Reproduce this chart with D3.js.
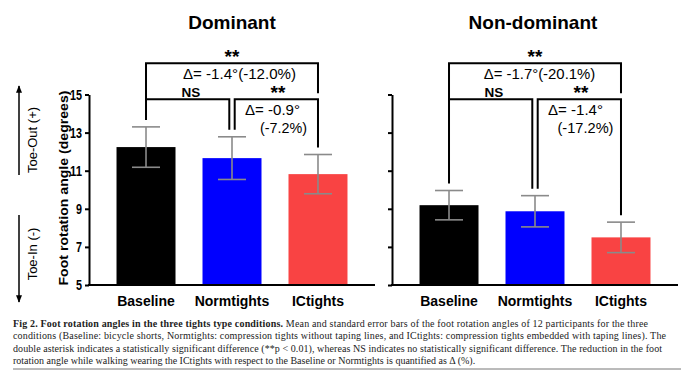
<!DOCTYPE html>
<html>
<head>
<meta charset="utf-8">
<script src="https://cdn.jsdelivr.net/npm/d3@7"></script>
<style>
  html, body { margin: 0; padding: 0; background: #fff; }
  svg { display: block; }
</style>
</head>
<body>
<div id="chart"></div>
<script>
const conditions = ["Baseline", "Normtights", "ICtights"];
const dominantMean = [12.24, 11.66, 10.82];
const dominantSE = [1.06, 1.12, 1.03];
const nonDominantMean = [9.19, 8.87, 7.50];
const nonDominantSE = [0.77, 0.82, 0.80];
const yTicks = [5, 7, 9, 11, 13, 15];
const panelTitles = ["Dominant", "Non-dominant"];
const deltaAll = ["Δ= -1.4°(-12.0%)", "Δ= -1.7°(-20.1%)"];
const deltaNorm = [["Δ= -0.9°", "(-7.2%)"], ["Δ= -1.4°", "(-17.2%)"]];
const sigLabels = ["**", "NS", "**"];
const barColors = ["#000000", "#0000ff", "#f94343"];

const captionLines = [
  [["Fig 2.  Foot rotation angles in the three tights type conditions.", true],
   [" Mean and standard error bars of the foot rotation angles of 12 participants for the three", false]],
  [["conditions (Baseline: bicycle shorts, Normtights: compression tights without taping lines, and ICtights: compression tights embedded with taping lines). The", false]],
  [["double asterisk indicates a statistically significant difference (**p < 0.01), whereas NS indicates no statistically significant difference. The reduction in the foot", false]],
  [["rotation angle while walking wearing the ICtights with respect to the Baseline or Normtights is quantified as Δ (%).", false]]
];

const width = 684, height = 370;
const sans = "'Liberation Sans', Arial, Helvetica, sans-serif";

const svg = d3.select("#chart").append("svg")
  .attr("width", width)
  .attr("height", height);

const y = d3.scaleLinear().domain([5, 15]).range([285, 94.5]);
const x = d3.scaleBand().domain(conditions).range([89, 375])
  .paddingInner(0.314).paddingOuter(0.32);

const panels = [
  { dx: 0, mean: dominantMean, se: dominantSE, labels: true },
  { dx: 303, mean: nonDominantMean, se: nonDominantSE, labels: false }
];

panels.forEach((p, i) => {
  const g = svg.append("g").attr("transform", `translate(${p.dx},0)`);
  const cx = c => x(c) + x.bandwidth() / 2;

  // title
  g.append("text")
    .attr("x", (x.range()[0] + x.range()[1]) / 2 + (i === 0 ? 0 : -2))
    .attr("y", 29)
    .attr("text-anchor", "middle")
    .style("font-family", sans).style("font-weight", "700").style("font-size", "19px")
    .text(panelTitles[i]);

  // bars
  g.selectAll("rect.bar")
    .data(conditions)
    .enter().append("rect")
    .attr("x", d => x(d))
    .attr("y", (d, k) => y(p.mean[k]))
    .attr("width", x.bandwidth())
    .attr("height", (d, k) => y(5) - y(p.mean[k]))
    .attr("fill", (d, k) => barColors[k]);

  // error bars
  const eb = g.selectAll("g.err")
    .data(conditions)
    .enter().append("g")
    .attr("stroke", "#8a8a8a").attr("stroke-width", 1.6);
  eb.append("line")
    .attr("x1", d => cx(d)).attr("x2", d => cx(d))
    .attr("y1", (d, k) => y(p.mean[k] + p.se[k]))
    .attr("y2", (d, k) => y(p.mean[k] - p.se[k]));
  [1, -1].forEach(s => {
    eb.append("line")
      .attr("x1", d => cx(d) - 14).attr("x2", d => cx(d) + 14)
      .attr("y1", (d, k) => y(p.mean[k] + s * p.se[k]))
      .attr("y2", (d, k) => y(p.mean[k] + s * p.se[k]));
  });

  // y axis
  const axis = d3.axisLeft(y).tickValues(yTicks).tickSize(4).tickSizeOuter(0).tickPadding(3)
    .tickFormat(p.labels ? d3.format("d") : "");
  const ag = g.append("g").attr("transform", `translate(${x.range()[0]},0)`).call(axis);
  ag.select(".domain").attr("stroke", "#000").attr("stroke-width", 2);
  ag.selectAll(".tick line").attr("stroke", "#000").attr("stroke-width", 2);
  ag.selectAll(".tick text")
    .style("font-family", sans).style("font-weight", "700").style("font-size", "15px")
    .attr("fill", "#000")
    .each(function(d) {
      if (p.labels) d3.select(this).attr("textLength", String(d).length * 6).attr("lengthAdjust", "spacingAndGlyphs");
    });

  // x axis line
  g.append("line")
    .attr("x1", x.range()[0] - 1).attr("x2", x.range()[1])
    .attr("y1", y(5)).attr("y2", y(5))
    .attr("stroke", "#000").attr("stroke-width", 2);

  // category labels
  g.selectAll("text.cat")
    .data(conditions)
    .enter().append("text")
    .attr("x", d => cx(d))
    .attr("y", 306)
    .attr("text-anchor", "middle")
    .style("font-family", sans).style("font-weight", "700").style("font-size", "14px")
    .text(d => d);

  // significance brackets
  const topY = 63.3, lowY = 99.3, gap = 7;
  const legEnd = k => y(p.mean[k] + p.se[k]) - gap;
  const xb = cx(conditions[0]), xn = cx(conditions[1]), xi = cx(conditions[2]);
  const br = g.append("g").attr("fill", "none").attr("stroke", "#000").attr("stroke-width", 2);
  br.append("path").attr("d", `M${xb},${legEnd(0)}V${topY}H${xi}V${lowY - 6}`);
  br.append("path").attr("d", `M${xb},${lowY}H${xn - 2.7}V${legEnd(1)}`);
  br.append("path").attr("d", `M${xn + 2.7},${legEnd(1)}V${lowY}H${xi}V${legEnd(2)}`);

  const txt = (sel, s, xx, yy, size, bold, anchor, len) => {
    const t = sel.append("text")
      .attr("x", xx).attr("y", yy)
      .attr("text-anchor", anchor || "middle")
      .style("font-family", sans)
      .style("font-weight", bold ? "700" : "400")
      .style("font-size", size + "px")
      .text(s);
    if (len) t.attr("textLength", len).attr("lengthAdjust", "spacingAndGlyphs");
    return t;
  };

  txt(g, sigLabels[0], (xb + xi) / 2, 62.5, 19, true);
  txt(g, sigLabels[1], (xb + xn) / 2 + 2, 96.5, 13.5, true);
  txt(g, sigLabels[2], (xn + xi) / 2 + 3, 98.5, 19, true);

  txt(g, deltaAll[i], i === 0 ? 183 : 180.7, 78.5, 14, false, "start", i === 0 ? 113 : 111.6);
  txt(g, deltaNorm[i][0], xn + 13, 114.5, 14, false, "start", 55);
  txt(g, deltaNorm[i][1], xi - (i === 0 ? 11 : 7.5), 132.5, 14, false, "end", i === 0 ? 47 : 56);
});

// y-axis title
svg.append("text")
  .attr("transform", "translate(67.5,188) rotate(-90)")
  .attr("text-anchor", "middle")
  .style("font-family", sans).style("font-weight", "700").style("font-size", "13.5px")
  .attr("textLength", 195).attr("lengthAdjust", "spacingAndGlyphs")
  .text("Foot rotation angle (degrees)");

// direction hints
const defs = svg.append("defs");
defs.append("marker")
  .attr("id", "arrowhead")
  .attr("viewBox", "0 0 10 10")
  .attr("refX", 9).attr("refY", 5)
  .attr("markerWidth", 5).attr("markerHeight", 5)
  .attr("orient", "auto")
  .append("path").attr("d", "M0,1L10,5L0,9Z").attr("fill", "#000");

svg.append("line")
  .attr("x1", 19).attr("x2", 19).attr("y1", 175).attr("y2", 86)
  .attr("stroke", "#000").attr("stroke-width", 1.5)
  .attr("marker-end", "url(#arrowhead)");
svg.append("line")
  .attr("x1", 19).attr("x2", 19).attr("y1", 215).attr("y2", 302)
  .attr("stroke", "#000").attr("stroke-width", 1.5)
  .attr("marker-end", "url(#arrowhead)");

svg.append("text")
  .attr("transform", "translate(37,140) rotate(-90)")
  .attr("text-anchor", "middle")
  .style("font-family", sans).style("font-size", "13px")
  .text("Toe-Out (+)");
svg.append("text")
  .attr("transform", "translate(37,254) rotate(-90)")
  .attr("text-anchor", "middle")
  .style("font-family", sans).style("font-size", "13px")
  .text("Toe-In (-)");

// caption
const serif = "'Liberation Serif', 'Times New Roman', serif";
const lineEnds = [648, 666, 662, null];
captionLines.forEach((parts, li) => {
  const t = svg.append("text")
    .attr("x", 13)
    .attr("y", 326.5 + li * 12.5)
    .style("font-family", serif)
    .style("font-size", "10px")
    .attr("fill", "#222");
  if (lineEnds[li]) t.attr("textLength", lineEnds[li] - 13).attr("lengthAdjust", "spacing");
  parts.forEach(([s, b]) => {
    t.append("tspan").style("font-weight", b ? "700" : "400").text(s);
  });
});

svg.append("line")
  .attr("x1", 13).attr("x2", 681).attr("y1", 369).attr("y2", 369)
  .attr("stroke", "#777").attr("stroke-width", 1);
</script>
</body>
</html>
